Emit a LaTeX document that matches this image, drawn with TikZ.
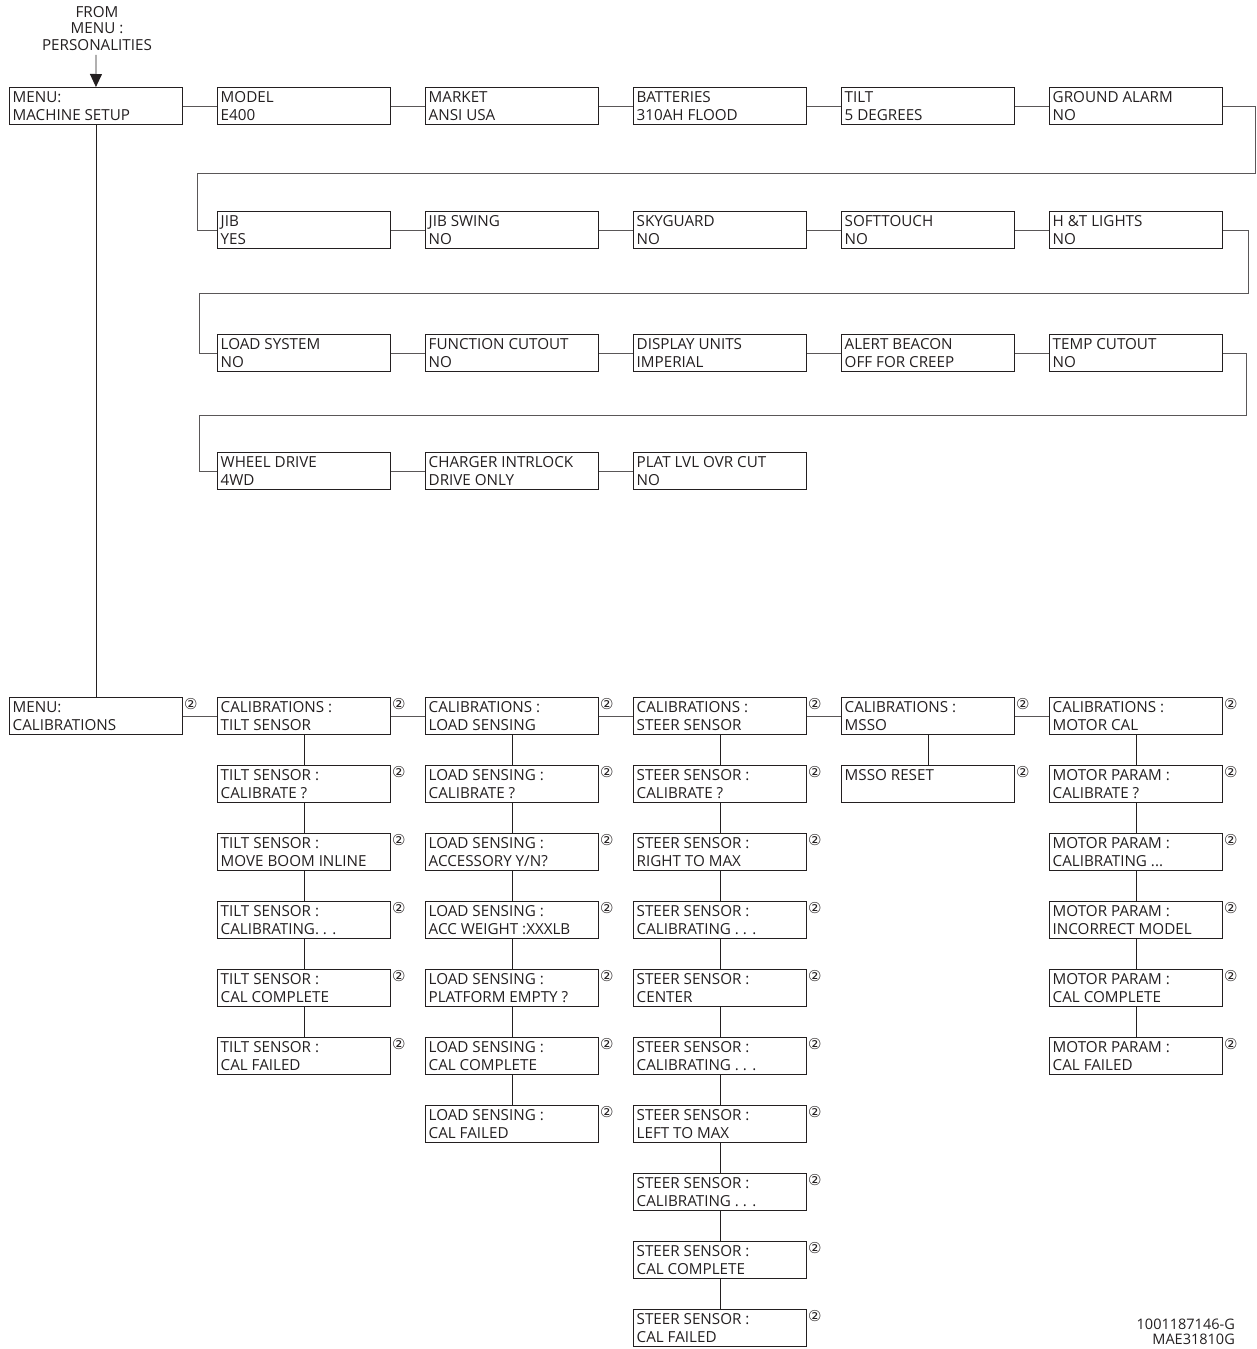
\documentclass[tikz,border=0pt]{standalone}
\usepackage{fontspec}
\setmainfont{Open Sans}
\newfontfamily\symfont{DejaVu Sans}
\usetikzlibrary{arrows.meta}
\definecolor{ink}{HTML}{231F20}
\tikzset{
  box/.style={draw=ink, line width=0.9pt, minimum width=173pt, minimum height=37pt, anchor=north west, inner sep=0pt},
  txt/.style={anchor=base west, inner sep=0pt, text=ink, font=\fontsize{15.2}{17}\selectfont},
  ctwo/.style={inner sep=0pt, text=ink, font=\symfont\fontsize{15}{16}\selectfont},
  conn/.style={draw=ink!75, line width=0.9pt},
  vconn/.style={draw=ink, line width=0.9pt},
}
\newcommand\bx[5]{%
  \node[box] (#1) at (#2,#3) {};
  \node[txt] (#1a) at ([shift={(3.5,15.3)}]#1.north west) {#4};
  \node[txt] (#1b) at ([shift={(3.5,33.6)}]#1.north west) {#5};
}
\newcommand\bxc[5]{%
  \bx{#1}{#2}{#3}{#4}{#5}
  \node[ctwo] (#1c) at ([shift={(8,7)}]#1.north east) {②};
}
\begin{document}
\begin{tikzpicture}[x=1pt,y=-1pt]
\useasboundingbox (0,0) rectangle (1257,1349);
% header
\node[align=center, anchor=north, inner sep=0pt, text=ink, font=\fontsize{15.2}{16.7}\selectfont] (from) at (97,6) {FROM\\MENU :\\PERSONALITIES};
% machine setup rows
\bx{ms}{9}{87}{MENU:}{MACHINE SETUP}
\bx{model}{217}{87}{MODEL}{E400}
\bx{market}{425}{87}{MARKET}{ANSI USA}
\bx{batt}{633}{87}{BATTERIES}{310AH FLOOD}
\bx{tilt}{841}{87}{TILT}{5 DEGREES}
\bx{ga}{1049}{87}{GROUND ALARM}{NO}
\bx{jib}{217}{211}{JIB}{YES}
\bx{jibs}{425}{211}{JIB SWING}{NO}
\bx{sky}{633}{211}{SKYGUARD}{NO}
\bx{soft}{841}{211}{SOFTTOUCH}{NO}
\bx{ht}{1049}{211}{H \&T LIGHTS}{NO}
\bx{ls}{217}{334}{LOAD SYSTEM}{NO}
\bx{fc}{425}{334}{FUNCTION CUTOUT}{NO}
\bx{du}{633}{334}{DISPLAY UNITS}{IMPERIAL}
\bx{ab}{841}{334}{ALERT BEACON}{OFF FOR CREEP}
\bx{tc}{1049}{334}{TEMP CUTOUT}{NO}
\bx{wd}{217}{452}{WHEEL DRIVE}{4WD}
\bx{ci}{425}{452}{CHARGER INTRLOCK}{DRIVE ONLY}
\bx{pl}{633}{452}{PLAT LVL OVR CUT}{NO}
\draw[vconn, -{Triangle[length=13pt,width=12pt]}] (from.south) ++(-1,4) -- (ms.north);
\draw[conn] (ms.east) -- (model.west);
\draw[conn] (model.east) -- (market.west);
\draw[conn] (market.east) -- (batt.west);
\draw[conn] (batt.east) -- (tilt.west);
\draw[conn] (tilt.east) -- (ga.west);
\draw[conn] (ga.east) -- ++(33,0) -- ++(0,67.5) -| ([xshift=-20]jib.west) -- (jib.west);
\draw[conn] (jib.east) -- (jibs.west);
\draw[conn] (jibs.east) -- (sky.west);
\draw[conn] (sky.east) -- (soft.west);
\draw[conn] (soft.east) -- (ht.west);
\draw[conn] (ht.east) -- ++(26,0) -- ++(0,63) -| ([xshift=-18]ls.west) -- (ls.west);
\draw[conn] (ls.east) -- (fc.west);
\draw[conn] (fc.east) -- (du.west);
\draw[conn] (du.east) -- (ab.west);
\draw[conn] (ab.east) -- (tc.west);
\draw[conn] (tc.east) -- ++(24,0) -- ++(0,62) -| ([xshift=-18]wd.west) -- (wd.west);
\draw[conn] (wd.east) -- (ci.west);
\draw[conn] (ci.east) -- (pl.west);
% calibrations
\bxc{mc}{9}{697}{MENU:}{CALIBRATIONS}
\bxc{t0}{217}{697}{CALIBRATIONS :}{TILT SENSOR}
\bxc{t1}{217}{765}{TILT SENSOR :}{CALIBRATE ?}
\bxc{t2}{217}{833}{TILT SENSOR :}{MOVE BOOM INLINE}
\bxc{t3}{217}{901}{TILT SENSOR :}{CALIBRATING. . .}
\bxc{t4}{217}{969}{TILT SENSOR :}{CAL COMPLETE}
\bxc{t5}{217}{1037}{TILT SENSOR :}{CAL FAILED}
\bxc{l0}{425}{697}{CALIBRATIONS :}{LOAD SENSING}
\bxc{l1}{425}{765}{LOAD SENSING :}{CALIBRATE ?}
\bxc{l2}{425}{833}{LOAD SENSING :}{ACCESSORY Y/N?}
\bxc{l3}{425}{901}{LOAD SENSING :}{ACC WEIGHT :XXXLB}
\bxc{l4}{425}{969}{LOAD SENSING :}{PLATFORM EMPTY ?}
\bxc{l5}{425}{1037}{LOAD SENSING :}{CAL COMPLETE}
\bxc{l6}{425}{1105}{LOAD SENSING :}{CAL FAILED}
\bxc{s0}{633}{697}{CALIBRATIONS :}{STEER SENSOR}
\bxc{s1}{633}{765}{STEER SENSOR :}{CALIBRATE ?}
\bxc{s2}{633}{833}{STEER SENSOR :}{RIGHT TO MAX}
\bxc{s3}{633}{901}{STEER SENSOR :}{CALIBRATING . . .}
\bxc{s4}{633}{969}{STEER SENSOR :}{CENTER}
\bxc{s5}{633}{1037}{STEER SENSOR :}{CALIBRATING . . .}
\bxc{s6}{633}{1105}{STEER SENSOR :}{LEFT TO MAX}
\bxc{s7}{633}{1173}{STEER SENSOR :}{CALIBRATING . . .}
\bxc{s8}{633}{1241}{STEER SENSOR :}{CAL COMPLETE}
\bxc{s9}{633}{1309}{STEER SENSOR :}{CAL FAILED}
\bxc{m0}{841}{697}{CALIBRATIONS :}{MSSO}
\bxc{m1}{841}{765}{MSSO RESET}{}
\bxc{p0}{1049}{697}{CALIBRATIONS :}{MOTOR CAL}
\bxc{p1}{1049}{765}{MOTOR PARAM :}{CALIBRATE ?}
\bxc{p2}{1049}{833}{MOTOR PARAM :}{CALIBRATING ...}
\bxc{p3}{1049}{901}{MOTOR PARAM :}{INCORRECT MODEL}
\bxc{p4}{1049}{969}{MOTOR PARAM :}{CAL COMPLETE}
\bxc{p5}{1049}{1037}{MOTOR PARAM :}{CAL FAILED}
\draw[vconn] (ms.south) -- (mc.north);
\draw[conn] (mc.east) -- (t0.west);
\draw[conn] (t0.east) -- (l0.west);
\draw[conn] (l0.east) -- (s0.west);
\draw[conn] (s0.east) -- (m0.west);
\draw[conn] (m0.east) -- (p0.west);
\foreach \a/\b in {t0/t1,t1/t2,t2/t3,t3/t4,t4/t5,
  l0/l1,l1/l2,l2/l3,l3/l4,l4/l5,l5/l6,
  s0/s1,s1/s2,s2/s3,s3/s4,s4/s5,s5/s6,s6/s7,s7/s8,s8/s9,
  m0/m1,p0/p1,p1/p2,p2/p3,p3/p4,p4/p5}
  \draw[vconn] (\a.south) -- (\b.north);
% drawing number
\node[align=right, anchor=north east, inner sep=0pt, text=ink, font=\fontsize{14.5}{15}\selectfont] (dwg) at (1235,1319) {1001187146-G\\MAE31810G};
\end{tikzpicture}
\end{document}
